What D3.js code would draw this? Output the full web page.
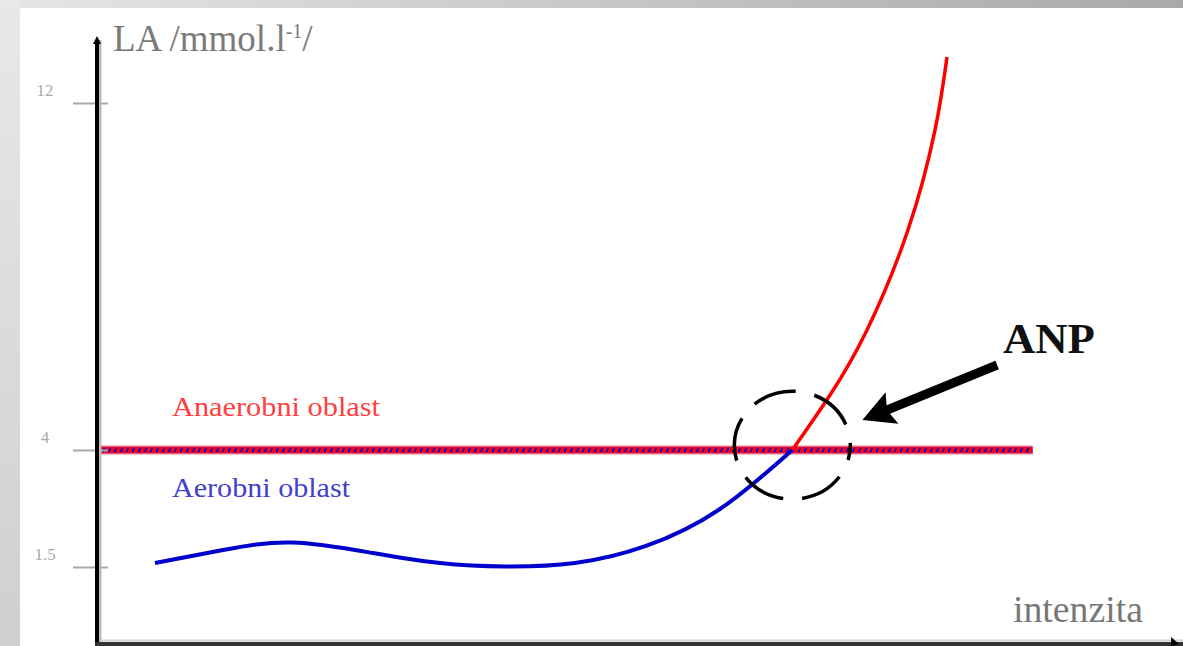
<!DOCTYPE html>
<html><head><meta charset="utf-8">
<script src="https://cdn.jsdelivr.net/npm/d3@7"></script>
<style>html,body{margin:0;padding:0;background:#fff;overflow:hidden}</style>
</head><body>
<svg id="c" width="1183" height="646"></svg>
<script>
// ---- data ----
const yTickValues = [1.5, 4, 12];
const yTickLabels = ["1.5", "4", "12"];
const aerobicX  = [5.38, 11.69, 18.09, 25.60, 31.82, 37.85, 44.34, 50.93, 57.79, 64.5];
const aerobicLA = [1.585, 1.863, 2.024, 1.799, 1.585, 1.511, 1.585, 1.949, 2.739, 4.0];
const anaerobicX  = [64.5, 68.0, 71.43, 75.23, 77.74, 78.85];
const anaerobicLA = [4.0, 5.268, 6.767, 9.072, 11.378, 13.06];
const thresholdLA = 4;
const thresholdSpan = [0, 86.8];
const yAxisTitle = "LA /mmol.l";
const xAxisTitle = "intenzita";
const regionLabels = ["Anaerobni oblast", "Aerobni oblast"];
const anpLabel = "ANP";
const anpCenter = [64.5, 4.11];
const arrowTail = [83.5, 5.96];
const arrowTip = [71.0, 4.69];

// ---- scales ----
const x = d3.scaleLinear().domain([0, 100]).range([97, 1175]);
const y = d3.scaleLinear().domain([1.5, 4, 12]).range([567, 450, 103]);

const svg = d3.select("#c");
const defs = svg.append("defs");
const gTop = defs.append("linearGradient").attr("id", "gTop").attr("x1", 0).attr("x2", 1).attr("y1", 0).attr("y2", 0);
gTop.append("stop").attr("offset", "0%").attr("stop-color", "#e6e6e6");
gTop.append("stop").attr("offset", "100%").attr("stop-color", "#a9a9a9");
const gLeft = defs.append("linearGradient").attr("id", "gLeft").attr("x1", 0).attr("x2", 0).attr("y1", 0).attr("y2", 1);
gLeft.append("stop").attr("offset", "0%").attr("stop-color", "#e8e8e8");
gLeft.append("stop").attr("offset", "100%").attr("stop-color", "#cfcfcf");
const pat = defs.append("pattern").attr("id", "chk").attr("width", 6).attr("height", 6).attr("patternUnits", "userSpaceOnUse");
pat.append("rect").attr("width", 6).attr("height", 6).attr("fill", "#ff0010");
pat.append("rect").attr("x", 0).attr("y", 0).attr("width", 2).attr("height", 2).attr("fill", "#1000d0");
pat.append("rect").attr("x", 3).attr("y", 2).attr("width", 2).attr("height", 2).attr("fill", "#8a1aa0");
pat.append("rect").attr("x", 1).attr("y", 4).attr("width", 2).attr("height", 2).attr("fill", "#2000c0");

// background frame
svg.append("rect").attr("x", 0).attr("y", 0).attr("width", 1183).attr("height", 8).attr("fill", "url(#gTop)");
svg.append("rect").attr("x", 0).attr("y", 0).attr("width", 20).attr("height", 646).attr("fill", "url(#gLeft)");

// threshold band
const tx0 = x(thresholdSpan[0]), tx1 = x(thresholdSpan[1]), ty = y(thresholdLA);
svg.append("rect").attr("x", tx0).attr("y", ty - 5).attr("width", tx1 - tx0).attr("height", 10).attr("fill", "#f8c0cc");
svg.append("rect").attr("x", tx0).attr("y", ty - 3.5).attr("width", tx1 - tx0).attr("height", 7).attr("fill", "url(#chk)");

// curves
const line = d3.line().x(d => x(d[0])).y(d => y(d[1])).curve(d3.curveNatural);
svg.append("path").datum(aerobicX.map((v, i) => [v, aerobicLA[i]]))
  .attr("d", line).attr("fill", "none").attr("stroke", "#0000cc").attr("stroke-width", 4);
svg.append("path").datum(anaerobicX.map((v, i) => [v, anaerobicLA[i]]))
  .attr("d", line).attr("fill", "none").attr("stroke", "#ff0000").attr("stroke-width", 3.5);

// y axis with ticks
const yAxis = d3.axisLeft(y).tickValues(yTickValues).tickFormat((d, i) => yTickLabels[i]).tickSize(0);
const ga = svg.append("g").attr("transform", `translate(${x(0)},0)`).call(yAxis);
ga.select(".domain").remove();
ga.selectAll(".tick line").attr("x1", -24).attr("x2", 11).attr("stroke", "#aaa").attr("stroke-width", 2);
ga.selectAll(".tick text").attr("x", -52).attr("dy", "-0.42em").attr("text-anchor", "middle")
  .attr("font-family", "Liberation Serif").attr("font-size", 17).attr("fill", "#aaa");

// axes lines
svg.append("line").attr("x1", x(0) + 3).attr("x2", x(0) + 3).attr("y1", 40).attr("y2", 642).attr("stroke", "#bbb").attr("stroke-width", 3);
svg.append("line").attr("x1", x(0)).attr("x2", x(0)).attr("y1", 40).attr("y2", 646).attr("stroke", "#000").attr("stroke-width", 4);
svg.append("path").attr("d", `M${x(0) - 4},44 L${x(0)},36 L${x(0) + 4},44 Z`).attr("fill", "#000");
svg.append("line").attr("x1", x(0) + 4).attr("x2", 1183).attr("y1", 640.5).attr("y2", 640.5).attr("stroke", "#d0d0d0").attr("stroke-width", 2);
svg.append("line").attr("x1", x(0) - 2).attr("x2", 1183).attr("y1", 644).attr("y2", 644).attr("stroke", "#333").attr("stroke-width", 4);
svg.append("path").attr("d", `M${x(100) - 4},637 L${x(100) + 4},644 L${x(100) - 4},646 Z`).attr("fill", "#000");

// axis titles
const t1 = svg.append("text").attr("x", 113).attr("y", 51).attr("font-family", "Liberation Serif")
  .attr("font-size", 37).attr("fill", "#7a7a7a");
t1.append("tspan").text(yAxisTitle);
t1.append("tspan").attr("dy", -13).attr("font-size", 20).text("-1");
t1.append("tspan").attr("dy", 13).text("/");
svg.append("text").attr("x", x(84.97)).attr("y", 622).attr("font-family", "Liberation Serif")
  .attr("font-size", 37).attr("fill", "#777").attr("textLength", 130).attr("lengthAdjust", "spacingAndGlyphs").text(xAxisTitle);

// region labels
svg.append("text").attr("x", x(6.96)).attr("y", y(4.78)).attr("font-family", "Liberation Serif")
  .attr("font-size", 28).attr("fill", "#ff4040").attr("textLength", 208).attr("lengthAdjust", "spacingAndGlyphs").text(regionLabels[0]);
svg.append("text").attr("x", x(6.96)).attr("y", y(3.0)).attr("font-family", "Liberation Serif")
  .attr("font-size", 28).attr("fill", "#4040cc").attr("textLength", 178).attr("lengthAdjust", "spacingAndGlyphs").text(regionLabels[1]);

// ANP annotation
svg.append("ellipse").attr("cx", x(anpCenter[0])).attr("cy", y(anpCenter[1])).attr("rx", 58).attr("ry", 54)
  .attr("fill", "none").attr("stroke", "#000").attr("stroke-width", 3.5)
  .attr("stroke-dasharray", "44 19").attr("stroke-dashoffset", 29);
const tp = [x(arrowTip[0]), y(arrowTip[1])], tl = [x(arrowTail[0]), y(arrowTail[1])];
const dx = tl[0] - tp[0], dy = tl[1] - tp[1], L = Math.hypot(dx, dy);
const ux = dx / L, uy = dy / L, nx = -uy, ny = ux;
const hl = 32, hw = 17, sw = 4.5;
const pts = [
  tp,
  [tp[0] + ux * hl + nx * hw, tp[1] + uy * hl + ny * hw],
  [tp[0] + ux * (hl - 4) + nx * sw, tp[1] + uy * (hl - 4) + ny * sw],
  [tl[0] + nx * sw, tl[1] + ny * sw],
  [tl[0] - nx * sw, tl[1] - ny * sw],
  [tp[0] + ux * (hl - 4) - nx * sw, tp[1] + uy * (hl - 4) - ny * sw],
  [tp[0] + ux * hl - nx * hw, tp[1] + uy * hl - ny * hw]
];
svg.append("path").attr("d", "M" + pts.map(p => p.join(",")).join("L") + "Z").attr("fill", "#000");
svg.append("text").attr("x", x(84.04)).attr("y", y(6.24)).attr("font-family", "Liberation Serif")
  .attr("font-weight", "bold").attr("font-size", 43).attr("fill", "#111")
  .attr("textLength", 92).attr("lengthAdjust", "spacingAndGlyphs").text(anpLabel);
</script>
</body></html>
